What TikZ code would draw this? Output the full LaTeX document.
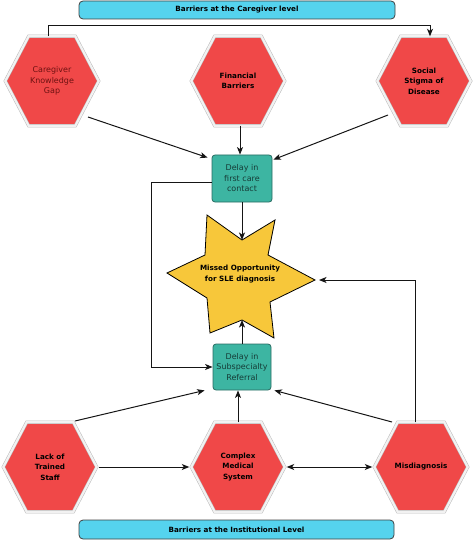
\documentclass[tikz,border=0pt]{standalone}
\usepackage{fontspec}
\setmainfont{DejaVu Sans}
\usetikzlibrary{arrows.meta,calc,backgrounds}
\definecolor{hexred}{HTML}{F04848}
\definecolor{teal1}{HTML}{3DB5A2}
\definecolor{tealdark}{HTML}{2A6B62}
\definecolor{cyan1}{HTML}{55D3EE}
\definecolor{star1}{HTML}{F7C73A}
\definecolor{linec}{HTML}{151515}
\definecolor{txtred}{HTML}{6E1212}
\definecolor{txtteal}{HTML}{163C37}
\tikzset{
  hexnode/.style={rectangle, minimum width=93pt, minimum height=89pt, inner sep=0pt, align=center, font=\fontsize{7.2}{10.5}\selectfont\bfseries},
  hexshape/.style={fill=hexred, draw=gray!55, double=gray!10, double distance=2.2pt, line width=0.5pt},
  delaybox/.style={rectangle, rounded corners=3pt, fill=teal1, draw=tealdark, line width=0.8pt, align=center, inner sep=0pt, text=txtteal, font=\fontsize{8}{10.5}\selectfont},
  banner/.style={rectangle, rounded corners=4pt, fill=cyan1, draw=black!75, line width=0.8pt, inner sep=0pt, font=\fontsize{7.2}{8}\selectfont\bfseries},
  conn/.style={draw=linec, line width=1pt},
  arr/.style={conn, -{Stealth[length=7.5pt,width=6pt,inset=2pt]}},
  dblarr/.style={conn, {Stealth[length=7.5pt,width=6pt,inset=2pt]}-{Stealth[length=7.5pt,width=6pt,inset=2pt]}},
}
\newcommand{\hexdraw}[1]{%
  \draw[hexshape] (#1.west) -- ($(#1.north west)!.25!(#1.north east)$) -- ($(#1.north west)!.75!(#1.north east)$) -- (#1.east) -- ($(#1.south west)!.75!(#1.south east)$) -- ($(#1.south west)!.25!(#1.south east)$) -- cycle;}
\begin{document}
\begin{tikzpicture}[x=1pt,y=-1pt]
\useasboundingbox (0,0) rectangle (473,540);
% banners
\node[banner, minimum width=316pt, minimum height=18pt] (bTop) at (237,10) {Barriers at the Caregiver level};
\node[banner, minimum width=315pt, minimum height=19pt] (bBot) at (236.5,529.5) {Barriers at the Institutional Level};
% hexagons
\node[hexnode, font=\fontsize{8}{10.5}\selectfont, text=txtred] (cg) at (52,81) {Caregiver\\Knowledge\\Gap};
\node[hexnode] (fb) at (238,81) {Financial\\Barriers};
\node[hexnode] (ss) at (424,81) {Social\\Stigma of\\Disease};
\node[hexnode] (ls) at (50,467) {Lack of\\Trained\\Staff};
\node[hexnode] (cm) at (238,467) {Complex\\Medical\\System};
\node[hexnode] (md) at (421,467) {Misdiagnosis};
\begin{scope}[on background layer]
\hexdraw{cg}\hexdraw{fb}\hexdraw{ss}\hexdraw{ls}\hexdraw{cm}\hexdraw{md}
\end{scope}
% delay boxes
\node[delaybox, minimum width=60pt, minimum height=47pt] (box1) at (242,178.5) {Delay in\\first care\\contact};
\node[delaybox, minimum width=58pt, minimum height=46pt] (box2) at (242,367) {Delay in\\Subspecialty\\Referral};
% star
\coordinate (sTL) at (207,215);
\coordinate (sT) at (242,240);
\coordinate (sTR) at (275,220);
\coordinate (sUR) at (268,255);
\coordinate (sR) at (315,280);
\coordinate (sLR) at (270,302);
\coordinate (sBR) at (274,338);
\coordinate (sB) at (242,320);
\coordinate (sBL) at (210,333);
\coordinate (sLL) at (207,298);
\coordinate (sL) at (167,273);
\coordinate (sUL) at (205,255);
\draw[fill=star1, draw=black, line width=0.8pt, line join=miter] (sTL) -- (sT) -- (sTR) -- (sUR) -- (sR) -- (sLR) -- (sBR) -- (sB) -- (sBL) -- (sLL) -- (sL) -- (sUL) -- cycle;
\node[align=center, inner sep=0pt, font=\fontsize{7.2}{10.5}\selectfont\bfseries] (star) at (240,274) {Missed Opportunity\\for SLE diagnosis};
% connectors
\draw[arr] ($(cg.north)+(-4,0)$) -- ++(0,-10.5) -| ($(ss.north)+(6,0)$);
\draw[arr] ($(cg)+(36,36)$) -- ($(box1.north west)+(-4,3)$);
\draw[arr] ($(fb.south)+(2,0)$) -- ($(box1.north)+(-2,0)$);
\draw[arr] ($(ss)+(-36,34)$) -- ($(box1.north east)+(1,5)$);
\draw[arr] (box1.south) -- (sT);
\draw[arr] ($(box1.west)+(0,4)$) -- ++(-60,0) |- (box2.west);
\draw[arr] (box2.north) -- (sB);
\draw[arr] ($(ls)+(25,-46)$) -- ($(box2.south west)+(-8,0)$);
\draw[arr] (cm.north) -- (cm.north |- box2.south);
\draw[arr] ($(md)+(-29,-45)$) -- ($(box2.south east)+(3,0)$);
\draw[arr] ($(ls.east)+(2,0)$) -- ($(cm.west)+(-2,0)$);
\draw[dblarr] ($(cm.east)+(2,0)$) -- ($(md.west)+(-2,0)$);
\draw[arr] ($(md.north)+(-6,0)$) |- ($(sR)+(4,0)$);
\end{tikzpicture}
\end{document}
